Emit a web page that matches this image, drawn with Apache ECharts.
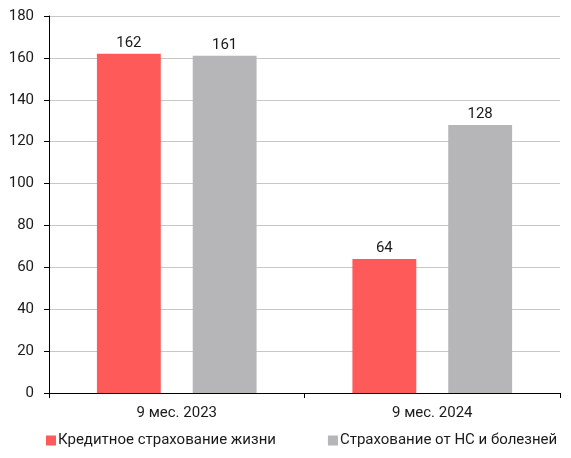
<!DOCTYPE html>
<html>
<head>
<meta charset="utf-8">
<script src="https://cdn.jsdelivr.net/npm/echarts@6/dist/echarts.min.js"></script>
<style>
  html, body { margin: 0; padding: 0; background: #fff; }
  #chart { width: 571px; height: 458px; }
</style>
</head>
<body>
<div id="chart"></div>
<script>
// Periods on the category axis
const categories = ['9 мес. 2023', '9 мес. 2024'];
// Series names and values
const seriesNames = ['Кредитное страхование жизни', 'Страхование от НС и болезней'];
const creditLife = [162, 64];
const accidentHealth = [161, 128];
// Value axis
const yMin = 0, yMax = 180, yStep = 20;

const FONT = 'Roboto, "Open Sans", sans-serif';
const TEXT = '#1a1a1a';
const FS = 15;

const chart = echarts.init(document.getElementById('chart'), null, { renderer: 'canvas' });

const labelStyle = {
  show: true,
  position: 'top',
  distance: 3,
  color: TEXT,
  fontFamily: FONT,
  fontSize: FS
};

chart.setOption({
  animation: false,
  backgroundColor: '#fff',
  grid: { left: 49, right: 11, top: 16, bottom: 65, containLabel: false },
  legend: {
    left: 41,
    bottom: 5,
    icon: 'rect',
    itemWidth: 10,
    itemHeight: 10,
    itemGap: 52,
    textStyle: { color: TEXT, fontFamily: FONT, fontSize: FS, padding: [0, 0, 0, -3] },
    data: seriesNames
  },
  xAxis: {
    type: 'category',
    data: categories,
    axisLine: { lineStyle: { color: '#000', width: 1 } },
    axisTick: { show: true, alignWithLabel: false, length: 5, lineStyle: { color: '#000' } },
    axisLabel: { color: TEXT, fontFamily: FONT, fontSize: FS, margin: 13 }
  },
  yAxis: {
    type: 'value',
    min: yMin,
    max: yMax,
    interval: yStep,
    axisLine: { show: true, lineStyle: { color: '#000', width: 1 } },
    axisTick: { show: true, length: 5, lineStyle: { color: '#000' } },
    axisLabel: { color: TEXT, fontFamily: FONT, fontSize: FS, margin: 15 },
    splitLine: { lineStyle: { color: '#c8c8c8', width: 1 } }
  },
  series: [
    {
      name: seriesNames[0],
      type: 'bar',
      data: creditLife,
      barWidth: '25%',
      barGap: '50%',
      itemStyle: { color: '#ff5a5a' },
      label: labelStyle
    },
    {
      name: seriesNames[1],
      type: 'bar',
      data: accidentHealth,
      barWidth: '25%',
      itemStyle: { color: '#b6b6b8' },
      label: labelStyle
    }
  ]
});
</script>
</body>
</html>
